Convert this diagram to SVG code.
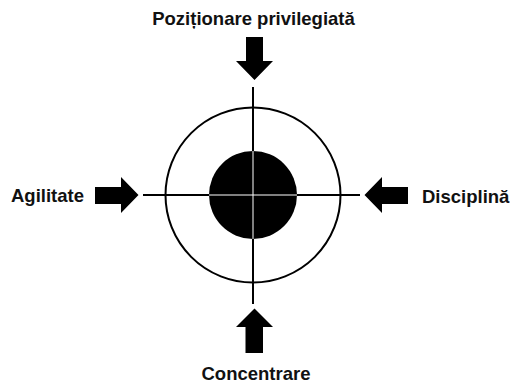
<svg xmlns="http://www.w3.org/2000/svg" width="510" height="383" viewBox="0 0 510 383">
<style>
.lbl{font-family:"Liberation Sans",Arial,sans-serif;font-weight:bold;font-size:18.5px;fill:#111}
.arrow{fill:#000}
.line{stroke:#000;stroke-width:2;fill:none}
</style>
<rect width="510" height="383" fill="#fff"/>
<g id="target">
<circle cx="253" cy="195" r="87.5" class="line"/>
<circle cx="253" cy="195" r="44" fill="#000"/>
</g>
<g id="connectors">
<line x1="253" y1="87" x2="253" y2="304" class="line"/>
<line x1="143" y1="195" x2="360" y2="195" class="line"/>
<line x1="253" y1="151" x2="253" y2="239" stroke="#fff" stroke-width="1"/>
<line x1="209" y1="195" x2="297" y2="195" stroke="#fff" stroke-width="1"/>
</g>
<g id="top">
<text class="lbl" x="253.5" y="25" text-anchor="middle">Poziționare privilegiată</text>
<polygon class="arrow" points="246,37 263,37 263,61 273,61 254.5,80 236,61 246,61"/>
</g>
<g id="left">
<text class="lbl" x="11" y="202">Agilitate</text>
<polygon class="arrow" points="95,187 121,187 121,177 138.5,195 121,213 121,204 95,204"/>
</g>
<g id="right">
<text class="lbl" x="422" y="203">Disciplină</text>
<polygon class="arrow" points="408,187 382,187 382,177 364.5,195 382,213 382,204 408,204"/>
</g>
<g id="bottom">
<text class="lbl" x="256" y="380" text-anchor="middle">Concentrare</text>
<polygon class="arrow" points="245.5,353 263,353 263,327 273,327 254.5,308.5 236,327 245.5,327"/>
</g>
</svg>
